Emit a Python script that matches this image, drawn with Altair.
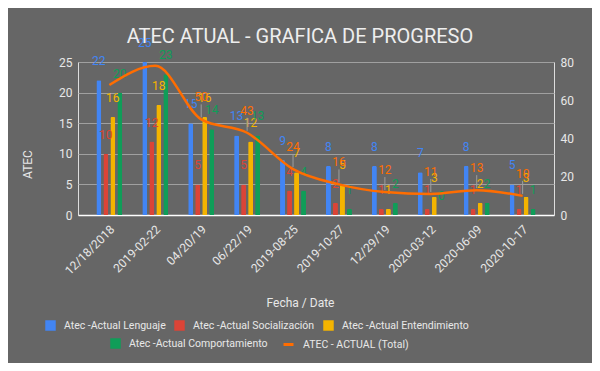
import altair as alt
import pandas as pd

# ---- data ----
fechas = ["12/18/2018", "2019-02-22", "04/20/19", "06/22/19", "2019-08-25",
          "2019-10-27", "12/29/19", "2020-03-12", "2020-06-09", "2020-10-17"]
series_names = ["Atec -Actual Lenguaje", "Atec -Actual Socialización",
                "Atec -Actual Entendimiento", "Atec -Actual Comportamiento"]
total_name = "ATEC - ACTUAL (Total)"
lenguaje = [22, 25, 15, 13, 9, 8, 8, 7, 8, 5]
socializacion = [10, 12, 5, 5, 4, 2, 1, 1, 1, 1]
entendimiento = [16, 18, 16, 12, 7, 5, 1, 3, 2, 3]
comportamiento = [20, 23, 14, 13, 4, 1, 2, 0, 2, 1]
total = [68, 78, 50, 43, 24, 16, 12, 11, 13, 10]
total_label_shown = [False, False, True, True, True, True, True, True, True, True]

# ---- styles ----
colores = ["#4285f4", "#db4437", "#f4b400", "#0f9d58"]
color_total = "#ff6d01"
FONT = "Roboto"
BG = "#666666"
TXT = "#e8e8e8"
GRID = "#a0a0a0"

rows = []
for name, vals in zip(series_names, [lenguaje, socializacion, entendimiento, comportamiento]):
    for f, v in zip(fechas, vals):
        rows.append({"fecha": f, "serie": name, "valor": v})
bars_df = pd.DataFrame(rows)
total_df = pd.DataFrame({"fecha": fechas, "serie": total_name, "total": total,
                         "mostrar": total_label_shown})
total_lbl_df = total_df[total_df["mostrar"]]

x_enc = alt.X(
    "fecha:N",
    scale=alt.Scale(domain=fechas, paddingInner=0.434, paddingOuter=0.4),
    axis=alt.Axis(title="Fecha / Date", labelAngle=-45, labelAlign="right",
                  labelBaseline="middle", labelPadding=12, labelOffset=3,
                  ticks=False, grid=False,
                  domainColor="#ffffff", domainWidth=1.5, labelColor=TXT,
                  labelFontSize=12, labelFont=FONT, titleColor=TXT,
                  titleFontSize=12, titleFont=FONT, titleFontWeight="normal",
                  titleX=222, titleY=87, titleAlign="center", titleBaseline="middle"),
)
xoff_enc = alt.XOffset("serie:N", scale=alt.Scale(domain=series_names,
                                                   paddingInner=0.29, paddingOuter=0))
y_left = alt.Y(
    "valor:Q",
    scale=alt.Scale(domain=[0, 25], nice=False, zero=True),
    axis=alt.Axis(title="ATEC", orient="left", values=[0, 5, 10, 15, 20, 25],
                  grid=True, gridColor=GRID, domain=False, ticks=False,
                  labelColor=TXT, labelFontSize=12, labelFont=FONT, labelPadding=6,
                  titleColor=TXT, titleFontSize=12, titleFont=FONT,
                  titleFontWeight="normal", titleX=-51, titleY=102,
                  titleAlign="center", titleBaseline="middle", titleAngle=270),
)
y_right = alt.Y(
    "total:Q",
    scale=alt.Scale(domain=[0, 80], nice=False, zero=True),
    axis=alt.Axis(title=None, orient="right", values=[0, 20, 40, 60, 80],
                  grid=False, domain=False, ticks=False, labelColor=TXT,
                  labelFontSize=12, labelFont=FONT, labelPadding=6),
)

legend_common = dict(orient="none", direction="horizontal", title=None,
                     labelColor=TXT, labelFont=FONT, labelFontSize=10.5,
                     labelOffset=8, columnPadding=8, padding=0, labelLimit=0)

bars_a = alt.Chart(bars_df[bars_df["serie"].isin(series_names[:3])]).mark_bar(
    cornerRadiusTopLeft=1.5, cornerRadiusTopRight=1.5
).encode(
    x=x_enc, xOffset=xoff_enc, y=y_left,
    color=alt.Color("serie:N",
                    scale=alt.Scale(domain=series_names[:3], range=colores[:3]),
                    legend=alt.Legend(legendX=-33, legendY=258, symbolType="square",
                                      symbolSize=110, symbolStrokeWidth=0,
                                      **legend_common)),
)
bars_b = alt.Chart(bars_df[bars_df["serie"] == series_names[3]]).mark_bar(
    cornerRadiusTopLeft=1.5, cornerRadiusTopRight=1.5
).encode(
    x=x_enc, xOffset=xoff_enc, y=y_left,
    fill=alt.Fill("serie:N",
                  scale=alt.Scale(domain=series_names[3:], range=colores[3:]),
                  legend=alt.Legend(legendX=32, legendY=276, symbolType="square",
                                    symbolSize=110, symbolStrokeWidth=0,
                                    **legend_common)),
)

texts = []
for name, c in zip(series_names, colores):
    texts.append(
        alt.Chart(bars_df[bars_df["serie"] == name]).mark_text(
            color=c, dy=-19, fontSize=12, font=FONT, baseline="middle"
        ).encode(x=x_enc, xOffset=xoff_enc, y=y_left, text="valor:Q")
    )

line = alt.Chart(total_df).mark_line(interpolate="monotone", strokeWidth=2.5).encode(
    x=x_enc, y=y_right,
    stroke=alt.Stroke("serie:N",
                      scale=alt.Scale(domain=[total_name], range=[color_total]),
                      legend=alt.Legend(legendX=204, legendY=276, symbolType="stroke",
                                        symbolSize=100, symbolStrokeWidth=3,
                                        **legend_common)),
)
stems = alt.Chart(total_lbl_df).mark_rule(
    color="#9e9e9e", strokeWidth=1, yOffset=-15, y2Offset=-2
).encode(x=x_enc, y=y_right, y2="total:Q")
total_text = alt.Chart(total_lbl_df).mark_text(
    color=color_total, dy=-22, fontSize=12, font=FONT, baseline="middle"
).encode(x=x_enc, y=y_right, text="total:Q")

left = alt.layer(bars_a, bars_b, *texts)
right = alt.layer(stems, line, total_text)

chart = alt.layer(left, right).resolve_scale(y="independent").properties(
    width=476, height=153, background=BG,
    autosize=alt.AutoSizeParams(type="none"),
    padding={"left": 70, "top": 54, "right": 38, "bottom": 148},
    title=alt.TitleParams(text="ATEC ATUAL - GRAFICA DE PROGRESO", fontSize=20,
                          font=FONT, fontWeight="normal", color="#eeeeee",
                          anchor="middle", frame="group", offset=20, dx=-16, dy=30),
).configure_view(stroke=None).configure(font=FONT)

chart.save("out.html", embed_options={"renderer": "svg", "actions": False})
